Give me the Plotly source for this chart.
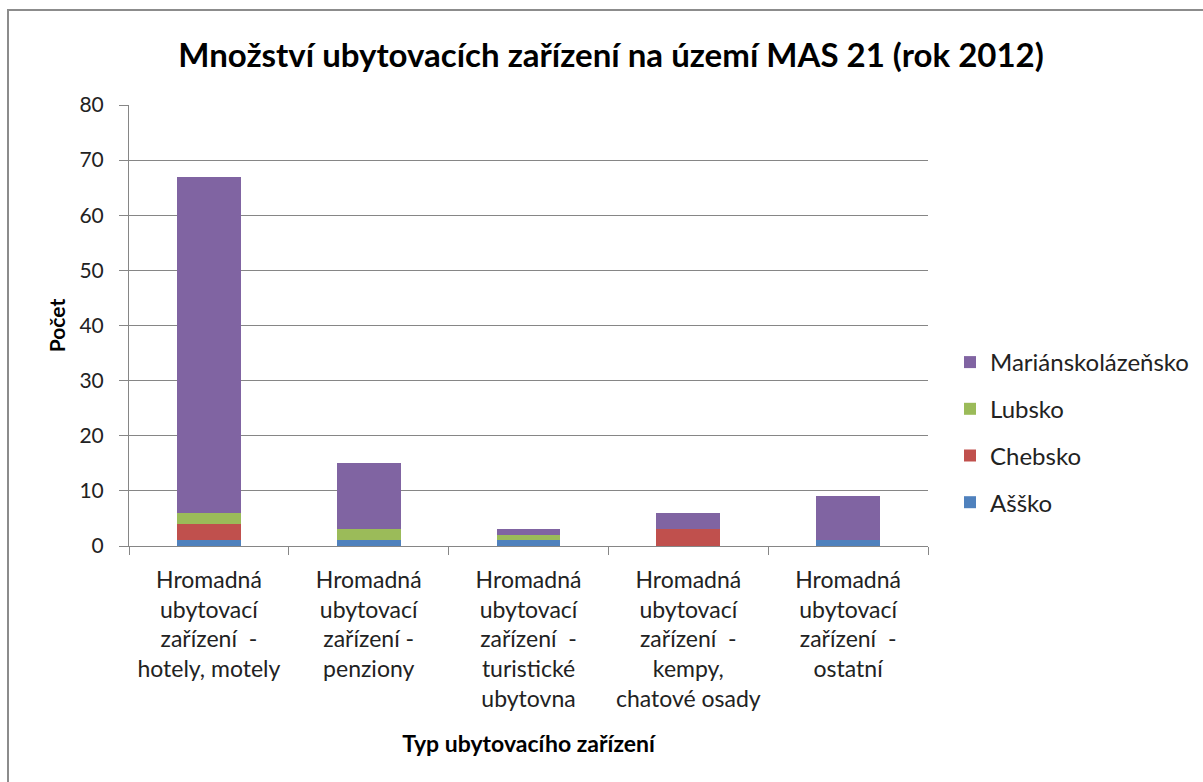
import plotly.graph_objects as go

categories = [
    "Hromadná<br>ubytovací<br>zařízení  -<br>hotely, motely",
    "Hromadná<br>ubytovací<br>zařízení -<br>penziony",
    "Hromadná<br>ubytovací<br>zařízení  -<br>turistické<br>ubytovna",
    "Hromadná<br>ubytovací<br>zařízení  -<br>kempy,<br>chatové osady",
    "Hromadná<br>ubytovací<br>zařízení  -<br>ostatní",
]
assko = [1, 1, 1, 0, 1]
chebsko = [3, 0, 0, 3, 0]
lubsko = [2, 2, 1, 0, 0]
marianskolazensko = [61, 12, 1, 3, 8]

series = [
    ("Ašško", assko, "#4F81BD"),
    ("Chebsko", chebsko, "#C0504D"),
    ("Lubsko", lubsko, "#9BBB59"),
    ("Mariánskolázeňsko", marianskolazensko, "#8064A2"),
]

FONT = "Lato, Open Sans, sans-serif"

fig = go.Figure()
for rank, (name, vals, color) in enumerate(series):
    fig.add_trace(go.Bar(
        x=categories, y=vals, name=name, legendgroup=name,
        legendrank=len(series) - rank,
        marker=dict(color=color, line=dict(width=0)),
    ))

# frame around the chart area (top and left edges visible)
W, H = 1203, 782
L, R, T, B = 129, 275, 105, 236
pw, ph = W - L - R, H - T - B
def px(x):
    return (x - L) / pw
def py(y):
    return (H - B - y) / ph

fig.add_shape(type="rect", xref="paper", yref="paper",
              x0=px(8), x1=px(1215), y0=py(10), y1=py(800),
              line=dict(color="#8c8c8c", width=2), layer="below")

fig.update_layout(
    width=W, height=H,
    barmode="stack", bargap=0.6,
    plot_bgcolor="white", paper_bgcolor="white",
    margin=dict(l=L, r=R, t=T, b=B, autoexpand=False),
    font=dict(family=FONT, size=21, color="#222222"),
    title=dict(text="<b>Množství ubytovacích zařízení na území MAS 21 (rok 2012)</b>",
               x=611 / W, xanchor="center", y=1 - 55 / H, yanchor="middle",
               font=dict(family=FONT, size=33, color="#000000")),
    legend=dict(x=px(950), xanchor="left", y=py(340), yanchor="top",
                traceorder="grouped", tracegroupgap=12.5,
                font=dict(family=FONT, size=24, color="#222222"),
                itemwidth=30),
    showlegend=True,
)
fig.update_xaxes(
    showline=True, linecolor="#868686", linewidth=1,
    ticks="outside", tickson="boundaries", ticklen=8, tickcolor="#868686",
    ticklabelstandoff=13,
    tickfont=dict(family=FONT, size=23, color="#222222"),
    title=dict(text="<b>Typ ubytovacího zařízení</b>", standoff=24,
               font=dict(family=FONT, size=23, color="#000000")),
)
fig.update_yaxes(
    range=[0, 80], dtick=10,
    showgrid=True, gridcolor="#868686", gridwidth=1,
    showline=True, linecolor="#868686", linewidth=1,
    ticks="outside", ticklen=9, tickcolor="#868686",
    ticklabelstandoff=11,
    tickfont=dict(family=FONT, size=21, color="#222222"),
    title=dict(text="<b>Počet</b>", standoff=8,
               font=dict(family=FONT, size=21, color="#000000")),
    zeroline=False,
)

fig.write_html("out.html")
